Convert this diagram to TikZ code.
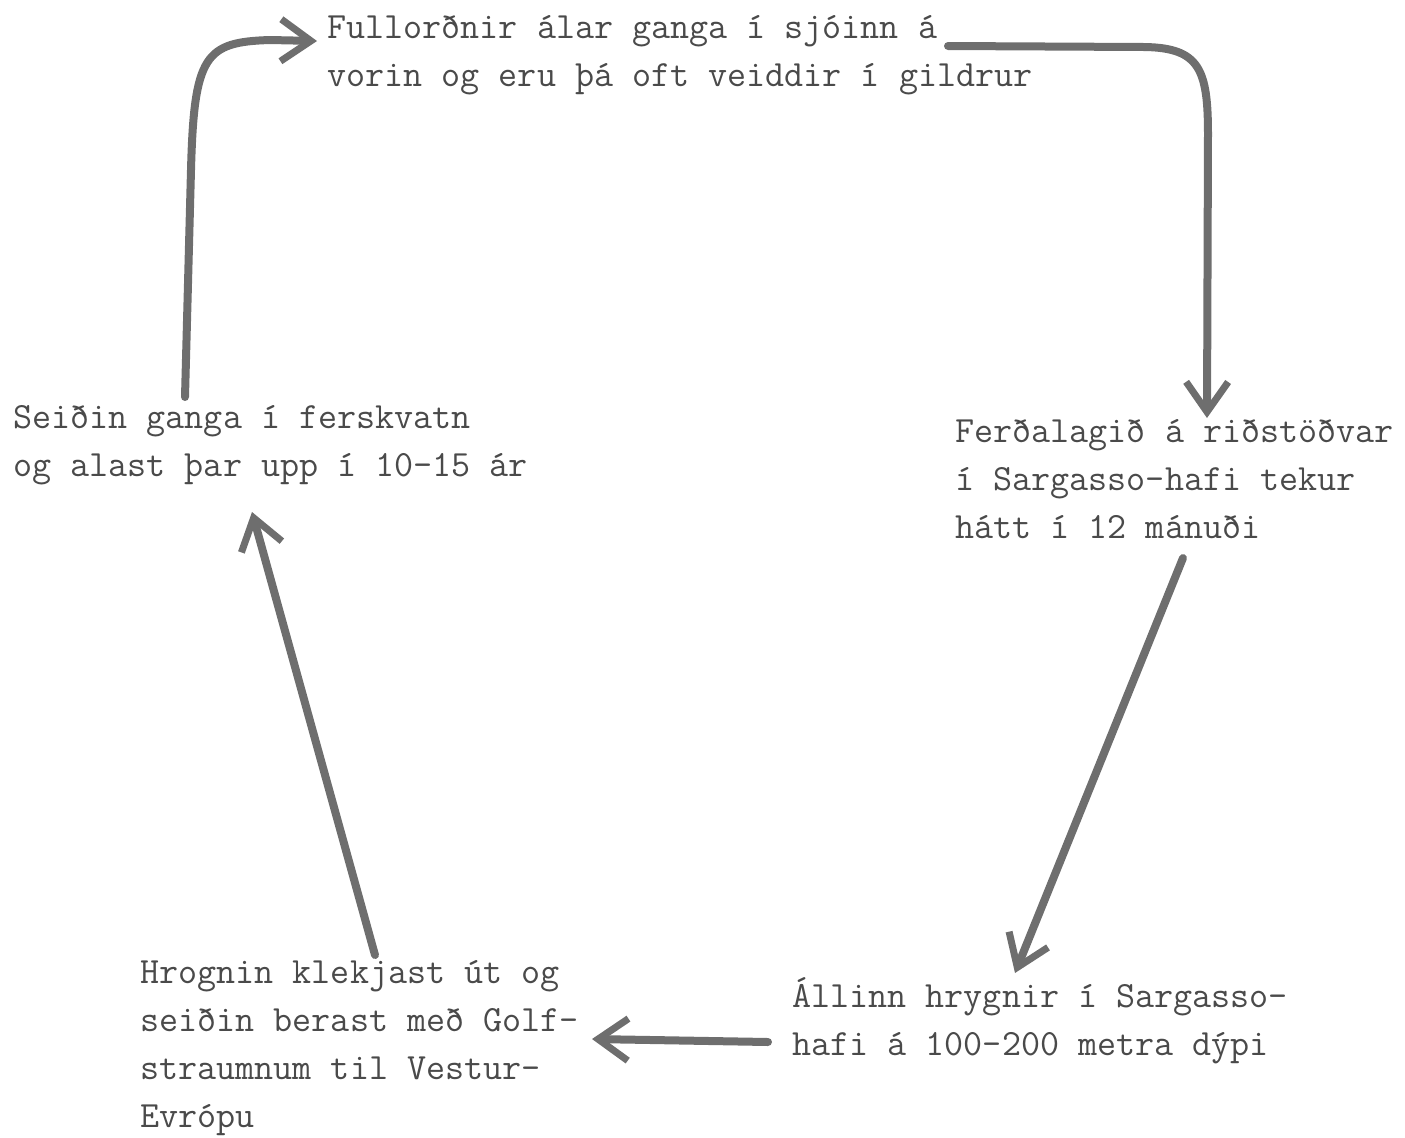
\documentclass[tikz,border=0pt]{standalone}
\usepackage{fontspec}
\usetikzlibrary{arrows.meta}
\definecolor{ink}{HTML}{4A4A4A}
\definecolor{pencil}{HTML}{6E6E6E}
\begin{document}
\begin{tikzpicture}[x={(0.5pt,0)},y={(0,-0.5pt)},
  label/.style={font=\ttfamily\fontsize{18.5}{24}\selectfont, text=ink, align=left, inner sep=0pt, anchor=base west},
  flow/.style={draw=pencil, line width=4pt, line cap=round, line join=round,
    -{Straight Barb[length=15pt,width=21pt,line width=3.5pt]}}]
\useasboundingbox (0,0) rectangle (1405,1137);
% anchor = baseline of the last line
\node[label] (full) at (327,86) {Fullorðnir álar ganga í sjóinn á\\vorin og eru þá oft veiddir í gildrur};
\node[label] (ferd) at (955,538) {Ferðalagið á riðstöðvar\\í Sargasso-hafi tekur\\hátt í 12 mánuði};
\node[label] (seid) at (13,476) {Seiðin ganga í ferskvatn\\og alast þar upp í 10-15 ár};
\node[label] (hrog) at (140,1127) {Hrognin klekjast út og\\seiðin berast með Golf-\\straumnum til Vestur-\\Evrópu};
\node[label] (alin) at (792,1055) {Állinn hrygnir í Sargasso-\\hafi á 100-200 metra dýpi};
\coordinate (s1) at (185,397);
\coordinate (e1) at (317,41);
\coordinate (s2) at (948,46);
\coordinate (e2) at (1207,418);
\coordinate (s3) at (1183,558);
\coordinate (e3) at (1015,973);
\coordinate (s4) at (768,1042);
\coordinate (e4) at (592,1039);
\coordinate (s5) at (375,955);
\coordinate (e5) at (252,512);
\draw[flow] (s1) -- (191,170) .. controls (194,55) and (205,42) .. (270,40) -- (e1);
\draw[flow] (s2) -- (1145,47) .. controls (1200,48) and (1208,70) .. (1208,135) -- (e2);
\draw[flow] (s3) -- (e3);
\draw[flow] (s4) -- (e4);
\draw[flow] (s5) -- (e5);
\end{tikzpicture}
\end{document}
